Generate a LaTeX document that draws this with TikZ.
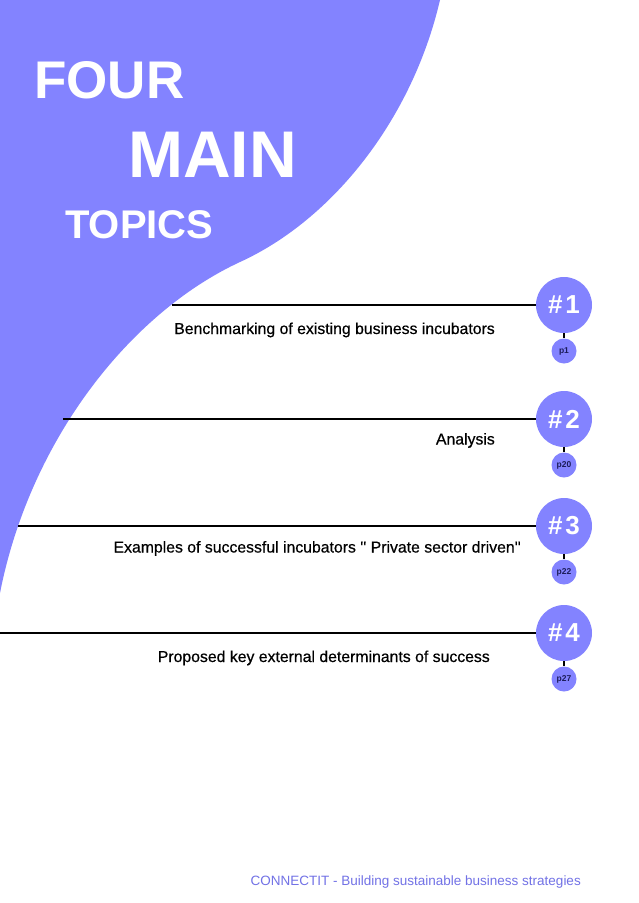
\documentclass[tikz,border=0pt]{standalone}
\usepackage{fontspec}
\setmainfont{Liberation Sans}
\newfontfamily\topicfont{Liberation Sans}[FakeBold=0.5]
\usetikzlibrary{positioning}
\definecolor{topicblue}{HTML}{8383FF}
\definecolor{footblue}{HTML}{7272E6}
\definecolor{pagenavy}{HTML}{1C1C5A}

\begin{document}
\begin{tikzpicture}[x=1pt, y=-1pt,
    hashdot/.style={circle, fill=topicblue, minimum size=56pt, inner sep=0pt,
        font=\fontsize{26}{26}\selectfont\bfseries, text=white},
    pagedot/.style={circle, fill=topicblue, minimum size=25pt, inner sep=0pt,
        font=\fontsize{8.5}{9}\selectfont\bfseries, text=pagenavy},
    topicline/.style={line width=1.6pt, black},
    topictext/.style={anchor=base east, inner sep=0pt, font=\topicfont\fontsize{15.8}{16}\selectfont},
    titletext/.style={anchor=base west, inner sep=0pt, text=white}]
    \useasboundingbox (0, 0) rectangle (638, 903);
    \fill[white] (0, 0) rectangle (638, 903);
    \fill[topicblue] (0, 0) -- (440, 0) .. controls (412, 120) and (332, 220) .. (240, 262)
        .. controls (130, 313) and (30, 440) .. (0, 593) -- cycle;
    % title
    \node[titletext, font=\fontsize{53}{53}\selectfont\bfseries] (four) at (34, 98) {FOUR};
    \node[titletext, font=\fontsize{66}{66}\selectfont\bfseries] (main) at (128, 177) {MAIN};
    \node[titletext, font=\fontsize{40}{40}\selectfont\bfseries] (topics) at (65, 238) {TOPICS};
    % topics
    \foreach \i/\y/\xs/\pg in {1/305/172/p1, 2/419/63/p20, 3/526/18/p22, 4/633/0/p27} {
        \coordinate (start\i) at (\xs, \y);
        \node[hashdot] (hash\i) at (564, \y) {\#\kern3pt\i};
        \node[pagedot] (page\i) at (564, \y + 46) {\pg};
        \draw[topicline] (start\i) -- (hash\i);
        \draw[topicline] (hash\i) -- (page\i);
    }
    \node[topictext] (bench) at (495, 334) {Benchmarking of existing business incubators};
    \node[topictext] (analysis) at (495, 444.5) {Analysis};
    \node[topictext] (examples) at (521, 552.5) {Examples of successful incubators \symbol{39}\symbol{39} Private sector driven\symbol{39}\symbol{39}};
    \node[topictext] (proposed) at (490, 662) {Proposed key external determinants of success};
    % footer
    \node[anchor=base east, inner sep=0pt, text=footblue, font=\fontsize{13.5}{14}\selectfont]
        (footer) at (581, 885) {CONNECTIT - Building sustainable business strategies};
\end{tikzpicture}
\end{document}
